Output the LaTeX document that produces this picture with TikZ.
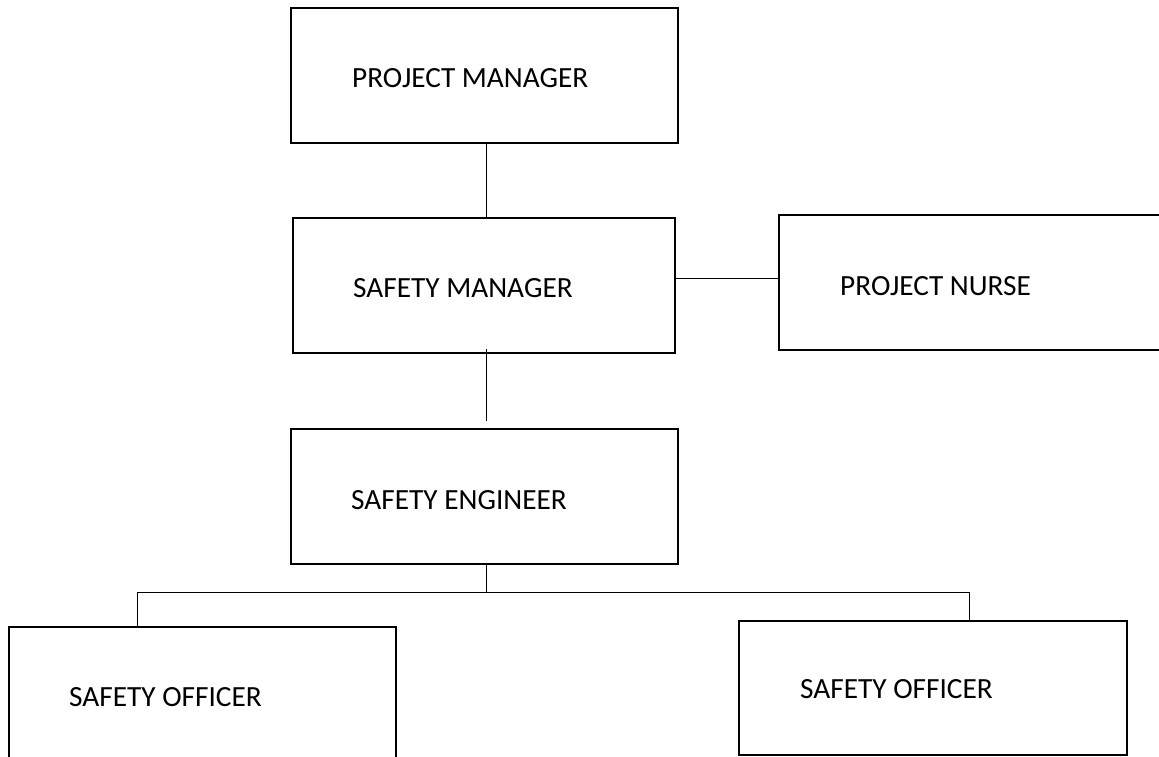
\documentclass[tikz,border=0pt]{standalone}
\usepackage{fontspec}
\setmainfont{Carlito}
\usetikzlibrary{calc}
\begin{document}
\begin{tikzpicture}[x=1pt,y=-1pt,
  box/.style={draw=black,line width=2.2pt,rectangle,inner sep=0pt},
  lbl/.style={anchor=base west,inner sep=0pt,font=\fontsize{29.3}{33}\selectfont},
  conn/.style={draw=black,line width=1pt}]
\useasboundingbox (0,0) rectangle (1159,757);
\clip (0,0) rectangle (1159,757);
% boxes
\node[box,minimum width=387pt,minimum height=135pt] (pm) at (484.5,75.5) {};
\node[box,minimum width=382pt,minimum height=135pt] (sm) at (484,285.5) {};
\node[box,minimum width=400pt,minimum height=135pt] (pn) at (979,282.5) {};
\node[box,minimum width=387pt,minimum height=135pt] (se) at (484.5,496.5) {};
\node[box,minimum width=387pt,minimum height=150pt] (so1) at (202.5,702) {};
\node[box,minimum width=388pt,minimum height=134pt] (so2) at (933,688) {};
% labels
\node[lbl] (pmt) at (352,88) {PROJECT MANAGER};
\node[lbl] (smt) at (353,297) {SAFETY MANAGER};
\node[lbl] (pnt) at (840,295) {PROJECT NURSE};
\node[lbl] (set) at (351,509) {SAFETY ENGINEER};
\node[lbl] (so1t) at (69,706) {SAFETY OFFICER};
\node[lbl] (so2t) at (800,698) {SAFETY OFFICER};
% connectors
\coordinate (bus) at (486,592);
\coordinate (busl) at (137,592);
\coordinate (busr) at (969,592);
\coordinate (smx) at (675,278);
\draw[conn] (pm.south -| bus) -- (sm.north -| bus);
\draw[conn] (smx) -- (smx -| pn.west);
\draw[conn] ($(sm.south -| bus)+(0,-5)$) -- ($(se.north -| bus)+(0,-7)$);
\draw[conn] (se.south -| bus) -- (bus);
\draw[conn] (busl) -- (busr);
\draw[conn] (busl) -- (busl |- so1.north);
\draw[conn] (busr) -- (busr |- so2.north);
\end{tikzpicture}
\end{document}
